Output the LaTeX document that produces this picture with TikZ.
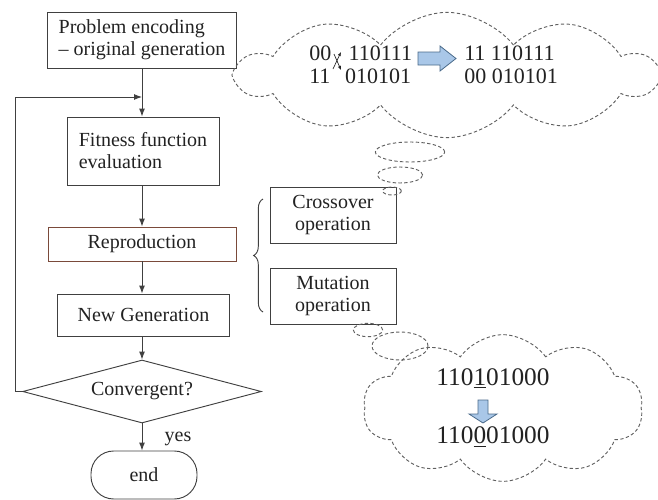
\documentclass[tikz,border=0pt]{standalone}
\usepackage{fontspec}
\setmainfont{Liberation Serif}
\usetikzlibrary{shapes.geometric,shapes.symbols,arrows.meta,decorations.pathreplacing}
\definecolor{boxc}{HTML}{404040}
\definecolor{repc}{HTML}{7A4A3A}
\definecolor{linec}{HTML}{404040}
\definecolor{txt}{HTML}{222222}
\definecolor{dashc}{HTML}{606060}
\definecolor{bluef}{HTML}{A9C7E8}
\definecolor{blued}{HTML}{4A6A8A}
\begin{document}
\begin{tikzpicture}[x=0.75pt,y=-0.75pt,
  box/.style={draw=boxc, line width=0.7pt, text=txt, font=\fontsize{15}{16.5}\selectfont, inner sep=0pt},
  arr/.style={draw=linec, line width=0.7pt, -{Latex[length=6pt,width=4.5pt]}},
  dashline/.style={draw=dashc, line width=0.7pt, dash pattern=on 2.5pt off 1.8pt},
  ctext/.style={text=txt, font=\fontsize{16.5}{18}\selectfont, inner sep=0pt},
  ctextb/.style={text=txt, font=\fontsize{19}{21}\selectfont, inner sep=0pt},
  blk/.style={fill=bluef, draw=blued, line width=0.6pt},
  small/.style={draw=txt, line width=0.5pt, -{Latex[length=3pt,width=2.5pt]}}
]
\useasboundingbox (0,0) rectangle (658,500);

% main column
\node[box, minimum width=141.75pt, minimum height=42pt, align=left] (enc) at (142,40) {Problem encoding\\– original generation};
\node[box, minimum width=114pt, minimum height=51pt, align=left] (fit) at (143,151) {Fitness function\\evaluation};
\node[box, draw=repc, minimum width=141pt, minimum height=25.5pt] (rep) at (142,244) {Reproduction};
\node[box, minimum width=129pt, minimum height=31.5pt, inner xsep=9pt, anchor=west] (gen) at (57,315) {New Generation};
\node[box, diamond, shape aspect=3.75, minimum width=179pt, minimum height=47.25pt] (conv) at (142,391.5) {Convergent?};
\node[box, minimum width=79.5pt, minimum height=36pt, rounded corners=17pt] (end) at (144,475) {end};
\node[text=txt, font=\fontsize{15}{16.5}\selectfont, inner sep=0pt] (yes) at (178,439) {yes};

\coordinate (j) at (142,97);
\draw[arr] (enc.south -| j) -- (fit.north -| j);
\draw[arr] (fit.south -| j) -- (rep.north -| j);
\draw[arr] (rep.south -| j) -- (gen.north -| j);
\draw[arr] (gen.south -| j) -- (conv.north);
\draw[arr] (conv.south) -- (end.north -| conv.south);
\draw[arr] (conv.west) -- ++(-7,0) |- (j);

% operations
\node[box, minimum width=94.5pt, minimum height=42pt, align=center] (cross) at (333,215) {Crossover\\operation};
\node[box, minimum width=94.5pt, minimum height=42pt, align=center] (mut) at (333,296) {Mutation\\operation};
\coordinate (bb) at (263,312);
\coordinate (bt) at (263,199);
\draw[draw=boxc, line width=0.7pt, decorate, decoration={brace, amplitude=7pt}] (bb) -- (bt);

% top cloud
\node[cloud, cloud puffs=10, cloud puff arc=105, cloud ignores aspect, dashline, minimum width=314pt, minimum height=94pt, inner sep=0pt] (c1) at (447,75) {};
\node[ctext, anchor=west] (a1) at (309,53) {00\hspace{13pt}110111};
\node[ctext, anchor=west] (a2) at (309,76) {11\hspace{11pt}010101};
\node[ctext, anchor=west] (b1) at (464,53) {11 110111};
\node[ctext, anchor=west] (b2) at (464,76) {00 010101};
\draw[small] (333,69) -- (341,52);
\draw[small] (334,54) -- (341,70);
\draw[blk] (418,52) -- (440,52) -- (440,46) -- (456,58.5) -- (440,71) -- (440,65) -- (418,65) -- cycle;

\draw[dashline] (410,152) ellipse [x radius=26pt, y radius=7.5pt];
\draw[dashline] (400,175) ellipse [x radius=17pt, y radius=6pt];
\draw[dashline] (392,191) ellipse [x radius=7pt, y radius=3pt];

% bottom cloud
\node[cloud, cloud puffs=10, cloud puff arc=110, cloud ignores aspect, dashline, minimum width=210pt, minimum height=110pt, inner sep=0pt] (c2) at (503,408) {};
\draw[dashline] (368,330) ellipse [x radius=11pt, y radius=5pt];
\draw[dashline] (400,346) ellipse [x radius=21pt, y radius=10.5pt];
\node[ctextb] (m1) at (493,378) {110\underline{1}01000};
\node[ctextb] (m2) at (493,437) {110\underline{0}01000};
\draw[blk] (478,400) -- (488,400) -- (488,414) -- (497,414) -- (483,423) -- (469,414) -- (478,414) -- cycle;
\end{tikzpicture}
\end{document}
